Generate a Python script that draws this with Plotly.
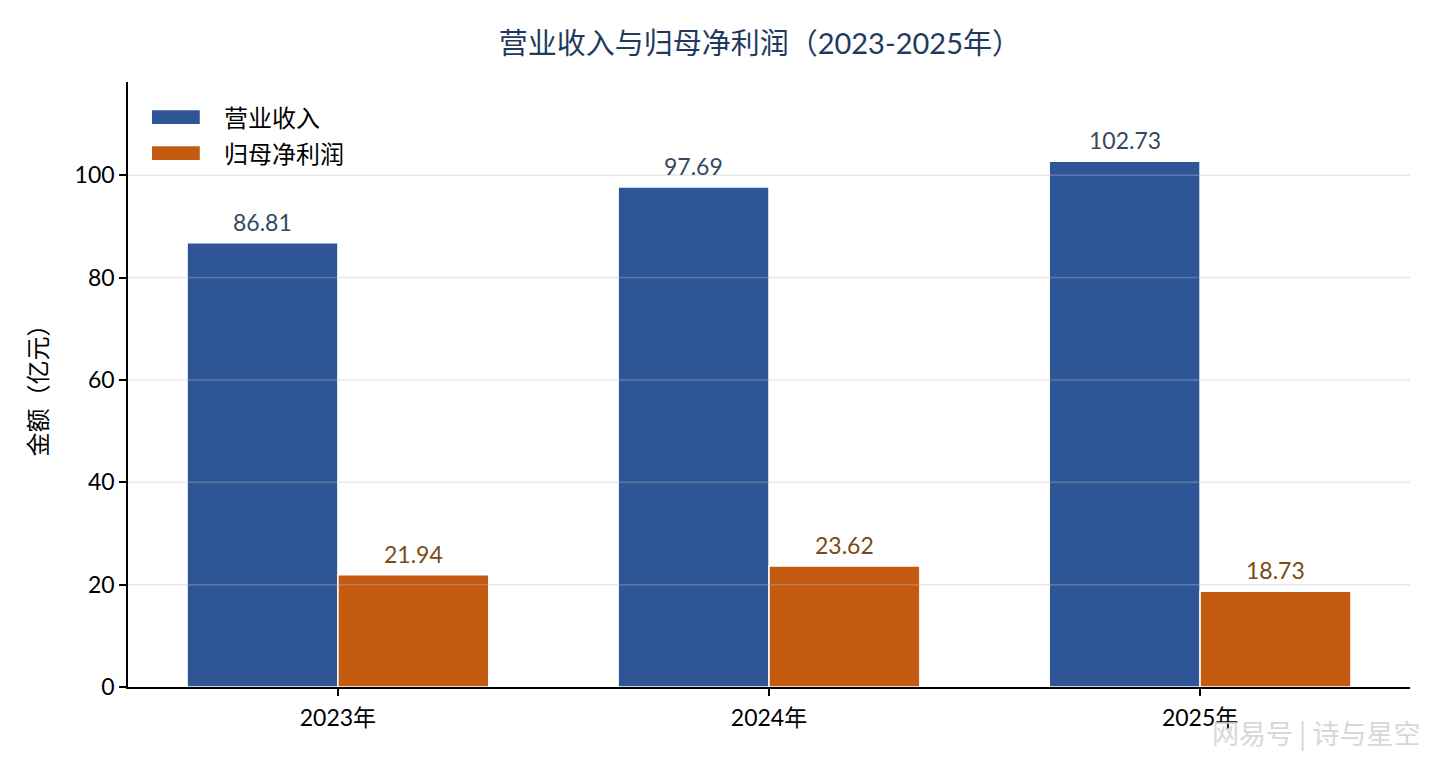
import plotly.graph_objects as go

years = ["2023年", "2024年", "2025年"]
revenue = [86.81, 97.69, 102.73]
profit = [21.94, 23.62, 18.73]
series_names = ["营业收入", "归母净利润"]
y_ticks = [0, 20, 40, 60, 80, 100]

BLUE = "#2E5596"
ORANGE = "#C55A11"
FONT = "Lato, 'Noto Sans CJK SC', sans-serif"

fig = go.Figure()
fig.add_trace(go.Bar(x=years, y=revenue, name=series_names[0],
                     marker=dict(color=BLUE, line=dict(color="white", width=1.5))))
fig.add_trace(go.Bar(x=years, y=profit, name=series_names[1],
                     marker=dict(color=ORANGE, line=dict(color="white", width=1.5))))

# value labels above bars
for i, yr in enumerate(years):
    fig.add_annotation(x=i - 0.175, y=revenue[i], xref="x", yref="y",
                       text=f"{revenue[i]:.2f}", showarrow=False, yshift=21,
                       font=dict(size=23, color="#34495E", family=FONT))
    fig.add_annotation(x=i + 0.175, y=profit[i], xref="x", yref="y",
                       text=f"{profit[i]:.2f}", showarrow=False, yshift=21,
                       font=dict(size=23, color="#7A4A16", family=FONT))

# grid lines drawn over the bars, half transparent
for t in y_ticks[1:]:
    fig.add_shape(type="line", xref="paper", x0=0, x1=1, yref="y", y0=t, y1=t,
                  line=dict(color="rgba(190,190,190,0.35)", width=1.5), layer="above")

# legend drawn by hand to get the wide matplotlib-style patches
for k, (name, col) in enumerate(zip(series_names, [BLUE, ORANGE])):
    yc = 0.942 - k * 0.0595
    fig.add_shape(type="rect", xref="paper", yref="paper",
                  x0=0.0187, x1=0.056, y0=yc - 0.0115, y1=yc + 0.0115,
                  fillcolor=col, line=dict(width=0))
    fig.add_annotation(x=0.0733, y=yc, xref="paper", yref="paper", text=name,
                       showarrow=False, xanchor="left", yanchor="middle",
                       font=dict(size=24, color="black", family=FONT))

# watermark
fig.add_annotation(x=1.0094, y=-0.076, xref="paper", yref="paper", text="网易号 | 诗与星空",
                   showarrow=False, xanchor="right", yanchor="middle",
                   font=dict(size=27, color="rgba(210,210,210,0.9)",
                             family="'Noto Sans CJK SC', sans-serif"))

fig.update_layout(
    width=1432, height=752,
    paper_bgcolor="white", plot_bgcolor="white",
    margin=dict(l=120, r=30, t=74, b=73),
    barmode="group", bargap=0.3, bargroupgap=0.0,
    title=dict(text="营业收入与归母净利润（2023-2025年）", xref="container", x=0.525,
               xanchor="center", y=0.952, yanchor="middle",
               font=dict(size=29, color="#1F3A5F", family=FONT)),
    font=dict(family=FONT, size=19, color="black"),
    showlegend=False,
)
fig.update_xaxes(range=[-0.487, 2.487], showline=True, linecolor="black", linewidth=1.5,
                 ticks="outside", ticklen=7, tickwidth=1.5, tickcolor="black",
                 showgrid=False, tickfont=dict(size=23, color="black"), ticklabelstandoff=3)
fig.update_yaxes(range=[0, 118.2], tickvals=y_ticks, showline=True, linecolor="black",
                 linewidth=1.5, ticks="outside", ticklen=7, tickwidth=1.5, tickcolor="black",
                 showgrid=False, zeroline=False, tickfont=dict(size=23, color="black"),
                 title=dict(text="金额（亿元）", font=dict(size=24, color="black"), standoff=20))

fig.write_html("out.html")
